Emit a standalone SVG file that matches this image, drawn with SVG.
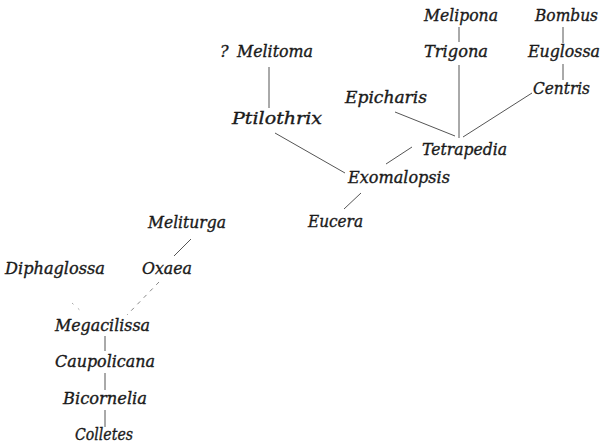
<svg xmlns="http://www.w3.org/2000/svg" width="607" height="444" viewBox="0 0 607 444">
<style>
text{font-family:"DejaVu Serif","Liberation Serif",serif;font-style:italic;font-size:16px;fill:#1a1a1a;stroke:#1a1a1a;stroke-width:0.35px;}
.e line{stroke:#555;stroke-width:1;fill:none;}
.e .d{stroke-dasharray:4 5;stroke:#888;}
.e .f{stroke-dasharray:2 6;stroke:#aaa;}
</style>
<rect width="607" height="444" fill="#fff"/>
<g class="e" id="connectors">
<line x1="459" y1="27" x2="459" y2="42"/>
<line x1="459" y1="65" x2="459" y2="138"/>
<line x1="563" y1="27" x2="563" y2="43"/>
<line x1="563" y1="64" x2="563" y2="80"/>
<line x1="532" y1="93" x2="463" y2="137"/>
<line x1="395" y1="112" x2="455" y2="136"/>
<line x1="269" y1="67" x2="269" y2="108"/>
<line x1="275" y1="133" x2="345" y2="173"/>
<line x1="412" y1="147" x2="386" y2="164"/>
<line x1="361" y1="193" x2="344" y2="209"/>
<line x1="191" y1="239" x2="174" y2="256"/>
<line class="d" x1="159" y1="282" x2="127" y2="315"/>
<line class="f" x1="72" y1="303" x2="83" y2="313"/>
<line x1="105" y1="336" x2="105" y2="351"/>
<line x1="105" y1="373" x2="105" y2="390"/>
<line x1="105" y1="410" x2="105" y2="427"/>
</g>
<g id="melipona"><text x="424" y="21" textLength="74" lengthAdjust="spacingAndGlyphs">Melipona</text></g>
<g id="bombus"><text x="535" y="21" textLength="63" lengthAdjust="spacingAndGlyphs">Bombus</text></g>
<g id="melitoma"><text x="220" y="57">?</text><text x="237" y="57" textLength="76" lengthAdjust="spacingAndGlyphs">Melitoma</text></g>
<g id="trigona"><text x="424" y="57" textLength="64" lengthAdjust="spacingAndGlyphs">Trigona</text></g>
<g id="euglossa"><text x="528" y="57" textLength="72" lengthAdjust="spacingAndGlyphs">Euglossa</text></g>
<g id="centris"><text x="533" y="94" textLength="57" lengthAdjust="spacingAndGlyphs">Centris</text></g>
<g id="epicharis"><text x="345" y="103" textLength="82" lengthAdjust="spacingAndGlyphs">Epicharis</text></g>
<g id="ptilothrix"><text x="232" y="124" textLength="90" lengthAdjust="spacingAndGlyphs">Ptilothrix</text></g>
<g id="tetrapedia"><text x="422" y="155" textLength="85" lengthAdjust="spacingAndGlyphs">Tetrapedia</text></g>
<g id="exomalopsis"><text x="348" y="183" textLength="102" lengthAdjust="spacingAndGlyphs">Exomalopsis</text></g>
<g id="eucera"><text x="308" y="227" textLength="55" lengthAdjust="spacingAndGlyphs">Eucera</text></g>
<g id="meliturga"><text x="148" y="228" textLength="78" lengthAdjust="spacingAndGlyphs">Meliturga</text></g>
<g id="diphaglossa"><text x="5" y="274" textLength="100" lengthAdjust="spacingAndGlyphs">Diphaglossa</text></g>
<g id="oxaea"><text x="142" y="274" textLength="50" lengthAdjust="spacingAndGlyphs">Oxaea</text></g>
<g id="megacilissa"><text x="55" y="331" textLength="95" lengthAdjust="spacingAndGlyphs">Megacilissa</text></g>
<g id="caupolicana"><text x="55" y="367" textLength="100" lengthAdjust="spacingAndGlyphs">Caupolicana</text></g>
<g id="bicornelia"><text x="63" y="404" textLength="84" lengthAdjust="spacingAndGlyphs">Bicornelia</text></g>
<g id="colletes"><text x="75" y="440" textLength="58" lengthAdjust="spacingAndGlyphs">Colletes</text></g>
</svg>
